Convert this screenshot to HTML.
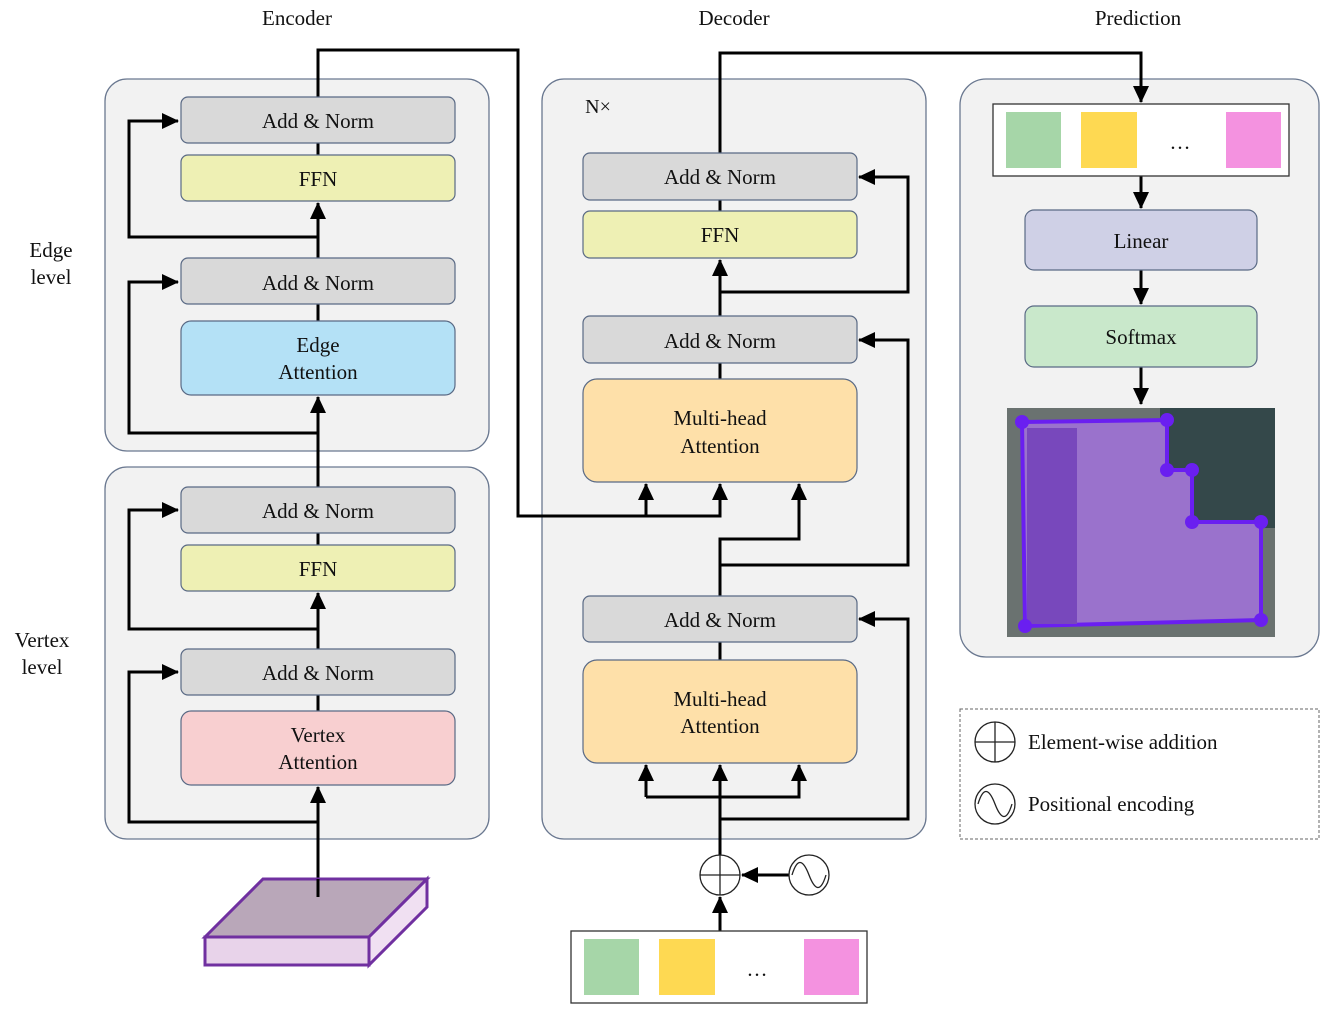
<!DOCTYPE html>
<html><head><meta charset="utf-8"><style>
html,body{margin:0;padding:0;background:#fff;}
svg{display:block;}
text{font-family:"Liberation Serif",serif;font-size:21px;fill:#111;text-anchor:middle;}
</style></head><body>
<svg width="1329" height="1010" viewBox="0 0 1329 1010" xmlns="http://www.w3.org/2000/svg">
<defs>
<marker id="b" markerWidth="18" markerHeight="18" refX="16" refY="9" orient="auto" markerUnits="userSpaceOnUse" viewBox="0 0 18 18">
<path d="M0,1 L17,9 L0,17 z" fill="#000"/></marker>
</defs>
<text x="297" y="25">Encoder</text>
<text x="734" y="25">Decoder</text>
<text x="1138" y="25">Prediction</text>
<text x="51" y="257">Edge</text><text x="51" y="284">level</text>
<text x="42" y="647">Vertex</text><text x="42" y="674">level</text>

<g fill="#f2f2f2" stroke="#6a7890" stroke-width="1.3">
<rect x="105" y="79" width="384" height="372" rx="22"/>
<rect x="105" y="467" width="384" height="372" rx="22"/>
<rect x="542" y="79" width="384" height="760" rx="22"/>
<rect x="960" y="79" width="359" height="578" rx="26"/>
</g>
<text x="598" y="113" style="font-size:20px">N×</text>

<g fill="none" stroke="#000" stroke-width="3">
<path d="M318 897 V787" marker-end="url(#b)"/>
<path d="M318 822 H129 V672 H178" marker-end="url(#b)"/>
<path d="M318 695 V711"/>
<path d="M318 649 V593" marker-end="url(#b)"/>
<path d="M318 629 H129 V510 H178" marker-end="url(#b)"/>
<path d="M318 533 V545"/>
<path d="M318 487 V397" marker-end="url(#b)"/>
<path d="M318 433 H129 V282 H178" marker-end="url(#b)"/>
<path d="M318 304 V321"/>
<path d="M318 258 V203" marker-end="url(#b)"/>
<path d="M318 237 H129 V121 H178" marker-end="url(#b)"/>
<path d="M318 143 V155"/>
<path d="M318 97 V50 H518 V516 H720 V484" marker-end="url(#b)"/>
<path d="M646 516 V484" marker-end="url(#b)"/>
<path d="M720 931 V897" marker-end="url(#b)"/>
<path d="M789 875 H742" marker-end="url(#b)"/>
<path d="M720 855 V765" marker-end="url(#b)"/>
<path d="M646 797 H799 V765" marker-end="url(#b)"/>
<path d="M646 797 V765" marker-end="url(#b)"/>
<path d="M720 819 H908 V619 H859" marker-end="url(#b)"/>
<path d="M720 642 V660"/>
<path d="M720 596 V539 H799 V484" marker-end="url(#b)"/>
<path d="M720 565 H908 V340 H859" marker-end="url(#b)"/>
<path d="M720 363 V379"/>
<path d="M720 316 V260" marker-end="url(#b)"/>
<path d="M720 292 H908 V177 H859" marker-end="url(#b)"/>
<path d="M720 200 V211"/>
<path d="M720 153 V53 H1141 V102" marker-end="url(#b)"/>
<path d="M1141 176 V208" marker-end="url(#b)"/>
<path d="M1141 270 V304" marker-end="url(#b)"/>
<path d="M1141 367 V404" marker-end="url(#b)"/>
</g>

<g stroke="#5a6a85" stroke-width="1.2">
<rect x="181" y="97" width="274" height="46" rx="7" fill="#d9d9d9"/>
<rect x="181" y="155" width="274" height="46" rx="7" fill="#eef0b4"/>
<rect x="181" y="258" width="274" height="46" rx="7" fill="#d9d9d9"/>
<rect x="181" y="321" width="274" height="74" rx="10" fill="#b4e1f6"/>
<rect x="181" y="487" width="274" height="46" rx="7" fill="#d9d9d9"/>
<rect x="181" y="545" width="274" height="46" rx="7" fill="#eef0b4"/>
<rect x="181" y="649" width="274" height="46" rx="7" fill="#d9d9d9"/>
<rect x="181" y="711" width="274" height="74" rx="10" fill="#f8cfd0"/>
<rect x="583" y="153" width="274" height="47" rx="7" fill="#d9d9d9"/>
<rect x="583" y="211" width="274" height="47" rx="7" fill="#eef0b4"/>
<rect x="583" y="316" width="274" height="47" rx="7" fill="#d9d9d9"/>
<rect x="583" y="379" width="274" height="103" rx="14" fill="#fee0a9"/>
<rect x="583" y="596" width="274" height="46" rx="7" fill="#d9d9d9"/>
<rect x="583" y="660" width="274" height="103" rx="14" fill="#fee0a9"/>
<rect x="1025" y="210" width="232" height="60" rx="9" fill="#cfd0e6"/>
<rect x="1025" y="306" width="232" height="61" rx="9" fill="#c9e8cb"/>
</g>
<text x="318" y="128">Add &amp; Norm</text>
<text x="318" y="186">FFN</text>
<text x="318" y="290">Add &amp; Norm</text>
<text x="318" y="352">Edge</text><text x="318" y="379">Attention</text>
<text x="318" y="518">Add &amp; Norm</text>
<text x="318" y="576">FFN</text>
<text x="318" y="680">Add &amp; Norm</text>
<text x="318" y="742">Vertex</text><text x="318" y="769">Attention</text>
<text x="720" y="184">Add &amp; Norm</text>
<text x="720" y="242">FFN</text>
<text x="720" y="348">Add &amp; Norm</text>
<text x="720" y="425">Multi-head</text><text x="720" y="453">Attention</text>
<text x="720" y="627">Add &amp; Norm</text>
<text x="720" y="706">Multi-head</text><text x="720" y="733">Attention</text>
<text x="1141" y="248">Linear</text>
<text x="1141" y="344">Softmax</text>

<rect x="571" y="931" width="296" height="72" fill="#fff" stroke="#333" stroke-width="1.3"/>
<rect x="584" y="939" width="55" height="56" fill="#a6d6a8"/>
<rect x="659" y="939" width="56" height="56" fill="#fed952"/>
<text x="757" y="976">…</text>
<rect x="804" y="939" width="55" height="56" fill="#f492e0"/>
<rect x="993" y="104" width="296" height="72" fill="#fff" stroke="#333" stroke-width="1.3"/>
<rect x="1006" y="112" width="55" height="56" fill="#a6d6a8"/>
<rect x="1081" y="112" width="56" height="56" fill="#fed952"/>
<text x="1180" y="149">…</text>
<rect x="1226" y="112" width="55" height="56" fill="#f492e0"/>

<g fill="#fff" stroke="#222" stroke-width="1.3">
<circle cx="720" cy="875" r="20"/>
<circle cx="809" cy="875" r="20"/>
<circle cx="995" cy="742" r="20"/>
<circle cx="995" cy="804" r="20"/>
</g>
<g stroke="#222" stroke-width="1.3" fill="none">
<path d="M700 875 H740 M720 855 V895"/>
<path d="M975 742 H1015 M995 722 V762"/>
<path d="M792 875 C798 855 804 862 809 875 S820 895 826 875"/>
<path d="M978 804 C984 784 990 791 995 804 S1006 824 1012 804"/>
</g>

<rect x="960" y="709" width="359" height="130" fill="none" stroke="#666" stroke-width="1" stroke-dasharray="3,2"/>
<text x="1028" y="749" style="text-anchor:start">Element-wise addition</text>
<text x="1028" y="811" style="text-anchor:start">Positional encoding</text>

<g stroke="#7030a0" stroke-width="3" stroke-linejoin="miter">
<polygon points="205,937 263,879 427,879 369,937" fill="#b9a7b9"/>
<polygon points="205,937 369,937 369,965 205,965" fill="#e8d3ea"/>
<polygon points="369,937 427,879 427,907 369,965" fill="#f0e0f2"/>
</g>
<path d="M318 879 V897" stroke="#000" stroke-width="3"/>

<rect x="1007" y="408" width="268" height="229" fill="#6a7270"/>
<rect x="1160" y="408" width="115" height="120" fill="#34484a"/>
<polygon points="1022,422 1167,420 1167,470 1192,470 1192,522 1261,522 1261,620 1025,626" fill="#9a72cc" stroke="#6a1ff0" stroke-width="4"/>
<rect x="1027" y="428" width="50" height="196" fill="#7848bc"/>
<g fill="#6a1ff0">
<circle cx="1022" cy="422" r="7"/><circle cx="1167" cy="420" r="7"/>
<circle cx="1167" cy="470" r="7"/><circle cx="1192" cy="470" r="7"/>
<circle cx="1192" cy="522" r="7"/><circle cx="1261" cy="522" r="7"/>
<circle cx="1261" cy="620" r="7"/><circle cx="1025" cy="626" r="7"/>
</g>
</svg>
</body></html>
